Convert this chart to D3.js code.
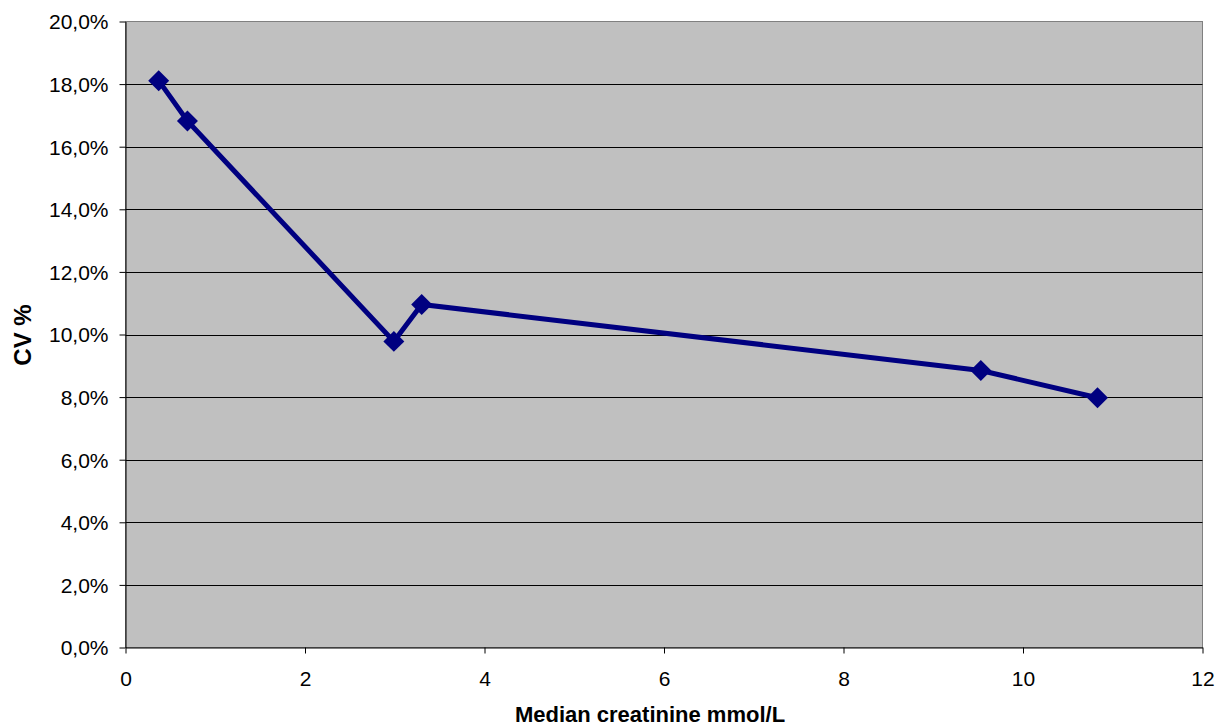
<!DOCTYPE html>
<html><head><meta charset="utf-8">
<script src="https://cdn.jsdelivr.net/npm/d3@7"></script>
<style>html,body{margin:0;padding:0;background:#fff;}svg{display:block;font-family:"Liberation Sans",Arial,sans-serif;}</style>
</head><body>
<svg id="chart" width="1216" height="727"></svg>
<script>
const creatinine = [0.37, 0.69, 2.99, 3.30, 9.53, 10.83];
const cv = [0.1811, 0.1682, 0.0978, 0.1096, 0.0885, 0.0798];
const xTicks = [0, 2, 4, 6, 8, 10, 12];
const yTicks = [0, 0.02, 0.04, 0.06, 0.08, 0.10, 0.12, 0.14, 0.16, 0.18, 0.20];
const xTitle = "Median creatinine mmol/L";
const yTitle = "CV %";

const svg = d3.select("#chart");
const L = 125.5, R = 1202.5, T = 21.5, B = 647.5;
const x = d3.scaleLinear().domain([0, 12]).range([L, R]);
const y = d3.scaleLinear().domain([0, 0.20]).range([B, T]);

svg.append("rect").attr("x", L).attr("y", T).attr("width", R - L).attr("height", B - T)
  .attr("fill", "#C0C0C0").attr("stroke", "#808080").attr("stroke-width", 1);

// gridlines
svg.append("g").selectAll("line").data(yTicks.filter(v => v > 0 && v < 0.2)).join("line")
  .attr("x1", L).attr("x2", R).attr("y1", d => Math.round(y(d)) + 0.5).attr("y2", d => Math.round(y(d)) + 0.5)
  .attr("stroke", "#000").attr("stroke-width", 1);

const fmt = d => (d * 100).toFixed(1).replace(".", ",") + "%";

const yAxis = svg.append("g").attr("transform", `translate(${L},0)`)
  .call(d3.axisLeft(y).tickValues(yTicks).tickFormat(fmt).tickSize(6).tickPadding(11).tickSizeOuter(0));
yAxis.select(".domain").attr("stroke", "#000");
yAxis.selectAll(".tick line").attr("stroke", "#000");
yAxis.selectAll("text").attr("font-size", 21).attr("fill", "#000").attr("font-family", "Liberation Sans, Arial, sans-serif").attr("dy", "0.35em");

const xAxis = svg.append("g").attr("transform", `translate(0,${B})`)
  .call(d3.axisBottom(x).tickValues(xTicks).tickFormat(d3.format("d")).tickSize(6).tickPadding(0).tickSizeOuter(0));
xAxis.select(".domain").attr("stroke", "#000");
xAxis.selectAll(".tick line").attr("stroke", "#000");
xAxis.selectAll("text").attr("font-size", 21).attr("fill", "#000").attr("font-family", "Liberation Sans, Arial, sans-serif")
  .attr("y", 38).attr("dy", 0);

// line
const pts = creatinine.map((c, i) => [c, cv[i]]);
svg.append("path").datum(pts)
  .attr("d", d3.line().x(d => x(d[0])).y(d => y(d[1])))
  .attr("fill", "none").attr("stroke", "#000080").attr("stroke-width", 5).attr("stroke-linejoin", "miter");

svg.append("g").selectAll("path").data(pts).join("path")
  .attr("d", d3.symbol().type(d3.symbolSquare).size(220))
  .attr("transform", d => `translate(${x(d[0])},${y(d[1])}) rotate(45)`)
  .attr("fill", "#000080");

// titles
svg.append("text").attr("x", 650).attr("y", 722).attr("text-anchor", "middle")
  .attr("font-size", 22).attr("font-weight", "bold")
  .text(xTitle);
svg.append("text").attr("transform", "translate(31,335) rotate(-90)").attr("text-anchor", "middle")
  .attr("font-size", 24).attr("font-weight", "bold")
  .text(yTitle);
</script>
</body></html>
